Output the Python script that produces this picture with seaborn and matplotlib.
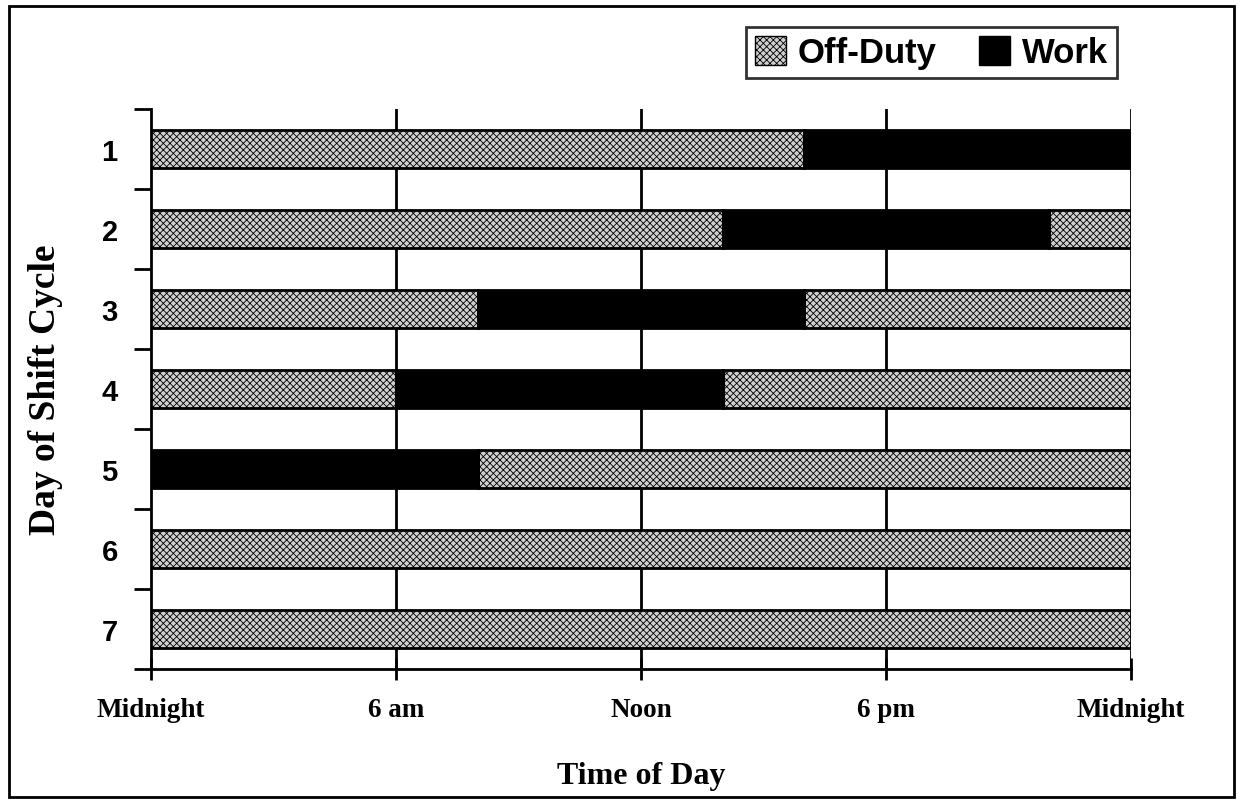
import seaborn as sns
import matplotlib.pyplot as plt
import matplotlib.patches as mpatches
import pandas as pd

# shift schedule, hours from midnight
days = [1, 2, 3, 4, 5, 6, 7]
seg_day = [1, 1, 2, 2, 2, 3, 3, 3, 4, 4, 4, 5, 5, 6, 7]
seg_start = [0, 16, 0, 14, 22, 0, 8, 16, 0, 6, 14, 0, 8, 0, 0]
seg_end = [16, 24, 14, 22, 24, 8, 16, 24, 6, 14, 24, 8, 24, 24, 24]
seg_kind = ["Off-Duty", "Work", "Off-Duty", "Work", "Off-Duty", "Off-Duty", "Work", "Off-Duty",
            "Off-Duty", "Work", "Off-Duty", "Work", "Off-Duty", "Off-Duty", "Off-Duty"]
hour_ticks = [0, 6, 12, 18, 24]
hour_labels = ["Midnight", "6 am", "Noon", "6 pm", "Midnight"]

segs = pd.DataFrame({"day": seg_day, "start": seg_start, "end": seg_end, "kind": seg_kind})
segs["dur"] = segs["end"] - segs["start"]

sns.set_theme(style="white")
plt.rcParams["hatch.color"] = "#555555"
plt.rcParams["hatch.linewidth"] = 0.6
plt.rcParams["text.color"] = "black"
plt.rcParams["xtick.color"] = "black"
plt.rcParams["ytick.color"] = "black"
plt.rcParams["axes.labelcolor"] = "black"

fig = plt.figure(figsize=(12.43, 8.03), dpi=100)
ax = fig.add_axes([0.1215, 0.1656, 0.7885, 0.6974])

styles = {"Off-Duty": dict(color="#d0d0d0", hatch="xxxxx"),
          "Work": dict(color="black", hatch=None)}

for kind, grp in segs.groupby("kind"):
    ax.barh(grp["day"], grp["dur"], left=grp["start"], height=0.47,
            color=styles[kind]["color"], hatch=styles[kind]["hatch"],
            edgecolor="black", linewidth=2, zorder=3)

ax.set_xlim(0, 24)
ax.set_ylim(7.5, 0.5)

# vertical gridlines
for h in hour_ticks[1:]:
    ax.axvline(h, color="black", lw=2, zorder=1)

ax.set_xticks(hour_ticks)
ax.set_xticklabels(hour_labels, fontfamily="Liberation Serif", fontweight="bold", fontsize=19.5)
ax.tick_params(axis="x", direction="inout", length=16, width=2, color="black", pad=12, bottom=True)

ax.set_yticks(days)
ax.set_yticklabels([str(d) for d in days], fontfamily="Liberation Sans", fontweight="bold", fontsize=21)
ax.set_yticks([d + 0.5 for d in [0] + days], minor=True)
ax.tick_params(axis="y", which="major", length=0, pad=24)
ax.tick_params(axis="y", which="minor", direction="out", length=12, width=2, color="black", left=True)

for s in ["top", "right"]:
    ax.spines[s].set_visible(False)
for s in ["left", "bottom"]:
    ax.spines[s].set_color("black")
    ax.spines[s].set_linewidth(2)

ax.set_xlabel("Time of Day", fontfamily="Liberation Serif", fontweight="bold", fontsize=23, labelpad=28)
ax.set_ylabel("Day of Shift Cycle", fontfamily="Liberation Serif", fontweight="bold", fontsize=27, labelpad=28)

handles = [mpatches.Patch(facecolor=styles[k]["color"], hatch=styles[k]["hatch"],
                          edgecolor="black", linewidth=1, label=k) for k in ["Off-Duty", "Work"]]
leg = fig.legend(handles=handles, loc="upper right", bbox_to_anchor=(0.8986, 0.965), ncol=2,
                 frameon=True, fancybox=False, edgecolor="black", handlelength=0.9, handleheight=0.9,
                 handletextpad=0.35, columnspacing=1.2, borderaxespad=0, borderpad=0.25,
                 prop={"family": "Liberation Sans", "weight": "bold", "size": 25})
leg.get_frame().set_linewidth(2)

fig.patches.append(mpatches.Rectangle((0.007, 0.006), 0.986, 0.985, transform=fig.transFigure,
                                      fill=False, edgecolor="black", linewidth=2))

fig.savefig("out.png", dpi=100, facecolor="white")
